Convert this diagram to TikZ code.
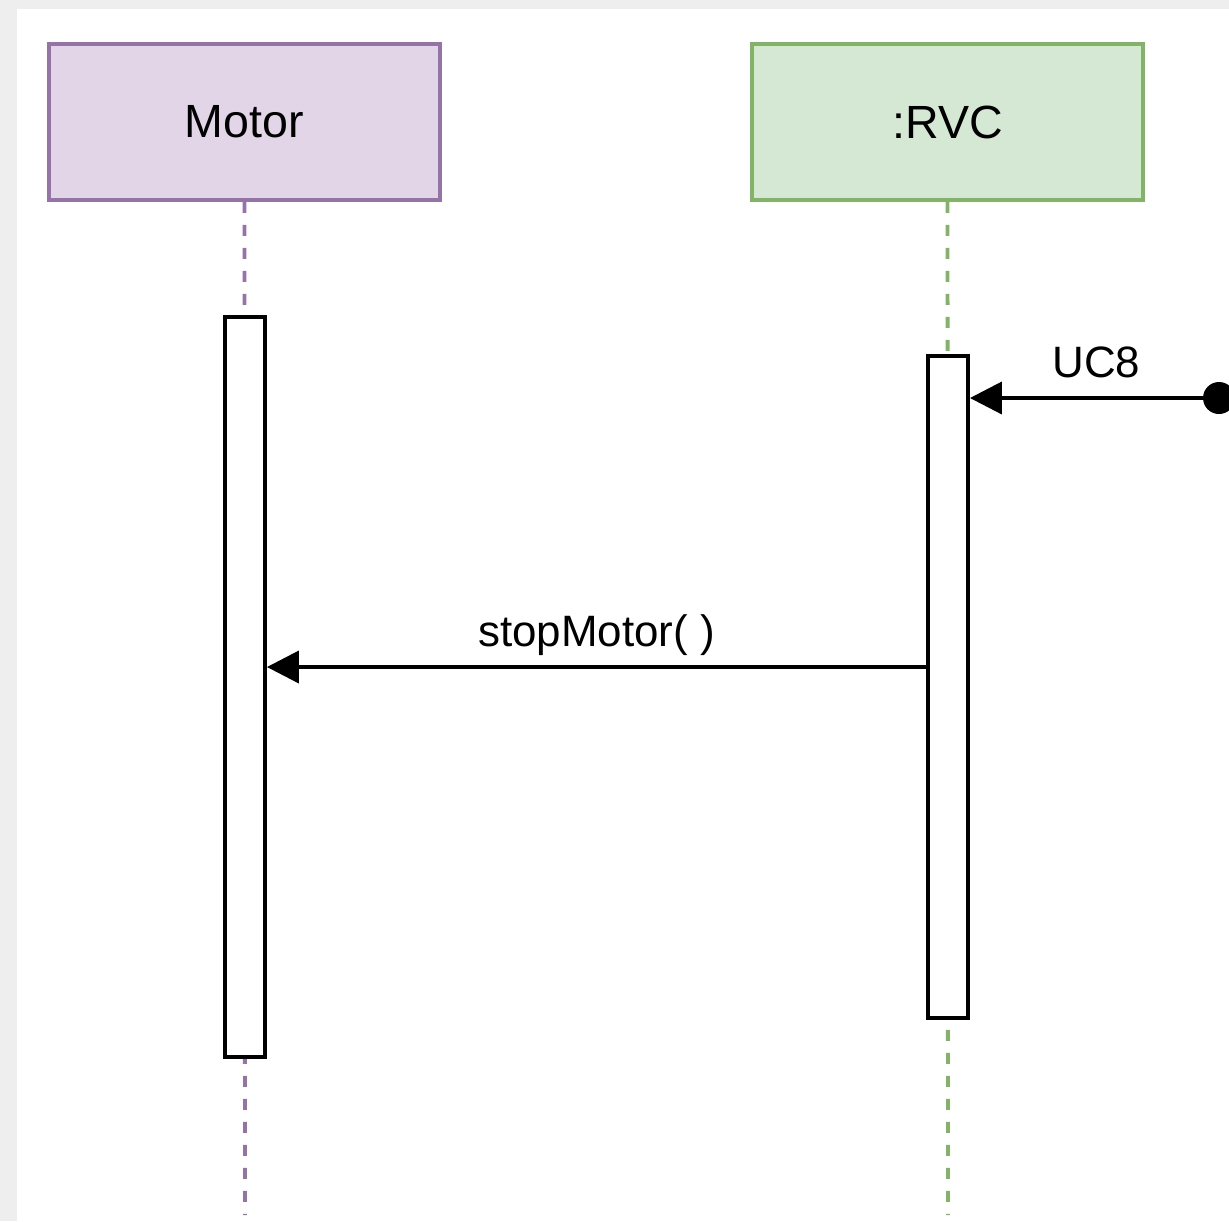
\documentclass[tikz,border=0pt]{standalone}
\usepackage{fontspec}
\setmainfont{Liberation Sans}
\usetikzlibrary{positioning,arrows.meta}

\definecolor{lilafill}{HTML}{E1D5E7}
\definecolor{lilaline}{HTML}{9673A6}
\definecolor{verdefill}{HTML}{D5E8D4}
\definecolor{verdeline}{HTML}{82B366}
\definecolor{fondo}{HTML}{EEEEEE}

\begin{document}
\begin{tikzpicture}[x=0.02cm,y=-0.02cm,
       font=\fontsize{26.5}{31}\selectfont,
       caja/.style={rectangle,draw,line width=2.2pt,minimum width=7.82cm,minimum height=3.12cm},
       activ/.style={rectangle,draw=black,fill=white,line width=2.2pt,minimum width=0.8cm},
       vida/.style={line width=2.2pt,dash pattern=on 0.22cm off 0.24cm},
       msg/.style={line width=2.2pt,-{Triangle[length=0.64cm,width=0.64cm]}},
       etiq/.style={font=\fontsize{25}{30}\selectfont},]
%% background and page margins
  \useasboundingbox (0,0) rectangle (1229,1221);
  \fill[fondo] (0,0) rectangle (1229,1221);
  \fill[white] (17,9) rectangle (1229,1221);

%% participants
  \node [caja,draw=lilaline,fill=lilafill] (motor) at (244.5,122) {Motor};
  \node [caja,draw=verdeline,fill=verdefill] (rvc) at (947.5,122) {:RVC};
  \coordinate (motorfin) at (245,1215);
  \coordinate (rvcfin) at (948,1215);
  \draw[vida,lilaline] (motor.south) -- (motorfin);
  \draw[vida,verdeline] (rvc.south) -- (rvcfin);

%% activation bars
  \node [activ,minimum height=14.8cm] (motoract) at (245,687) {};
  \node [activ,minimum height=13.24cm] (rvcact) at (948,687) {};

%% messages
  \node [circle,fill=black,inner sep=0pt,minimum size=0.64cm] (inicio) at (1219,398) {};
  \coordinate (uc8fin) at (rvcact.east |- inicio);
  \draw[msg] (inicio) -- node[etiq,above=0.24cm,xshift=0.2cm] (uc8) {UC8} (uc8fin);
  \coordinate (stopini) at ([yshift=0.4cm]rvcact.west);
  \coordinate (stopfin) at (motoract.east |- stopini);
  \draw[msg] (stopini) -- node[etiq,above=0.08cm] (stop) {stopMotor( )} (stopfin);
\end{tikzpicture}
\end{document}
